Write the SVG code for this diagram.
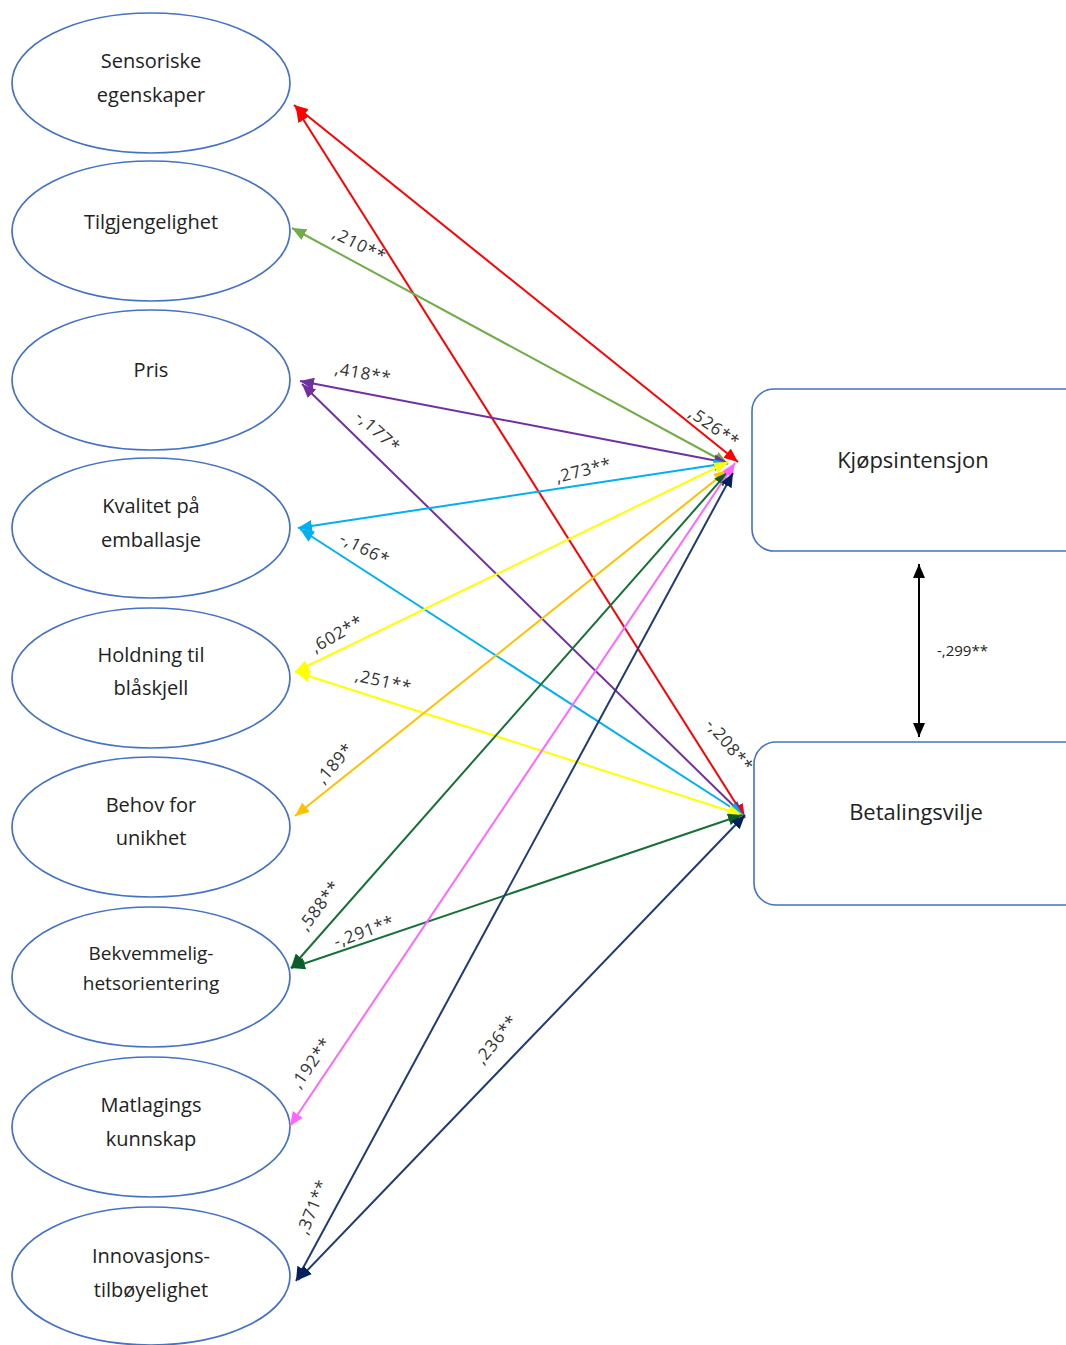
<svg xmlns="http://www.w3.org/2000/svg" width="1066" height="1345" viewBox="0 0 1066 1345">
<style>
.node ellipse{fill:#fff;stroke:#4472C4;stroke-width:1.7}
.box{fill:#fff;stroke:#4472C4;stroke-width:1.6}
.nt{font-family:"Open Sans","Noto Sans",sans-serif;font-size:20px;fill:#222;text-anchor:middle}
.bt{font-family:"Open Sans","Noto Sans",sans-serif;font-size:22px;fill:#222;text-anchor:middle}
.lb{font-family:"Open Sans","Noto Sans",sans-serif;font-size:17px;fill:#333;text-anchor:middle;letter-spacing:0.8px}
.c line{stroke-width:2;fill:none}
</style>
<defs>
<marker id="mR" markerUnits="userSpaceOnUse" markerWidth="14" markerHeight="12" refX="14" refY="6" orient="auto-start-reverse"><path d="M0,0L14,6L0,12z" fill="#FF0000"/></marker>
<marker id="mLG" markerUnits="userSpaceOnUse" markerWidth="14" markerHeight="12" refX="14" refY="6" orient="auto-start-reverse"><path d="M0,0L14,6L0,12z" fill="#70AD47"/></marker>
<marker id="mP" markerUnits="userSpaceOnUse" markerWidth="14" markerHeight="12" refX="14" refY="6" orient="auto-start-reverse"><path d="M0,0L14,6L0,12z" fill="#7030A0"/></marker>
<marker id="mC" markerUnits="userSpaceOnUse" markerWidth="14" markerHeight="12" refX="14" refY="6" orient="auto-start-reverse"><path d="M0,0L14,6L0,12z" fill="#00B0F0"/></marker>
<marker id="mY" markerUnits="userSpaceOnUse" markerWidth="14" markerHeight="12" refX="14" refY="6" orient="auto-start-reverse"><path d="M0,0L14,6L0,12z" fill="#FFFF00"/></marker>
<marker id="mO" markerUnits="userSpaceOnUse" markerWidth="14" markerHeight="12" refX="14" refY="6" orient="auto-start-reverse"><path d="M0,0L14,6L0,12z" fill="#FFC000"/></marker>
<marker id="mDG" markerUnits="userSpaceOnUse" markerWidth="14" markerHeight="12" refX="14" refY="6" orient="auto-start-reverse"><path d="M0,0L14,6L0,12z" fill="#0B5E2A"/></marker>
<marker id="mPk" markerUnits="userSpaceOnUse" markerWidth="14" markerHeight="12" refX="14" refY="6" orient="auto-start-reverse"><path d="M0,0L14,6L0,12z" fill="#FF66FF"/></marker>
<marker id="mN" markerUnits="userSpaceOnUse" markerWidth="14" markerHeight="12" refX="14" refY="6" orient="auto-start-reverse"><path d="M0,0L14,6L0,12z" fill="#002060"/></marker>
<marker id="mB" markerUnits="userSpaceOnUse" markerWidth="14" markerHeight="12" refX="14" refY="6" orient="auto-start-reverse"><path d="M0,0L14,6L0,12z" fill="#000"/></marker>
</defs>
<rect width="1066" height="1345" fill="#fff"/>

<g id="sensoriske" class="node"><ellipse cx="151" cy="83" rx="139" ry="70"/><text class="nt" x="151" y="68">Sensoriske</text><text class="nt" x="151" y="102">egenskaper</text></g>
<g id="tilgjengelighet" class="node"><ellipse cx="151" cy="231" rx="139" ry="70"/><text class="nt" x="151" y="229">Tilgjengelighet</text></g>
<g id="pris" class="node"><ellipse cx="151" cy="380" rx="139" ry="70"/><text class="nt" x="151" y="377">Pris</text></g>
<g id="kvalitet" class="node"><ellipse cx="151" cy="528" rx="139" ry="70"/><text class="nt" x="151" y="513">Kvalitet på</text><text class="nt" x="151" y="547">emballasje</text></g>
<g id="holdning" class="node"><ellipse cx="151" cy="678" rx="139" ry="70"/><text class="nt" x="151" y="662">Holdning til</text><text class="nt" x="151" y="695">blåskjell</text></g>
<g id="behov" class="node"><ellipse cx="151" cy="827" rx="139" ry="70"/><text class="nt" x="151" y="812">Behov for</text><text class="nt" x="151" y="845">unikhet</text></g>
<g id="bekvemmelighet" class="node"><ellipse cx="151" cy="977" rx="139" ry="70"/><text class="nt" x="151" y="960" style="font-size:19px">Bekvemmelig-</text><text class="nt" x="151" y="990" style="font-size:19px">hetsorientering</text></g>
<g id="matlagings" class="node"><ellipse cx="151" cy="1127" rx="139" ry="70"/><text class="nt" x="151" y="1112">Matlagings</text><text class="nt" x="151" y="1146">kunnskap</text></g>
<g id="innovasjon" class="node"><ellipse cx="151" cy="1276" rx="139" ry="69"/><text class="nt" x="151" y="1263">Innovasjons-</text><text class="nt" x="151" y="1297">tilbøyelighet</text></g>

<g id="kjopsintensjon"><rect class="box" x="752" y="389" width="340" height="162" rx="22"/><text class="bt" x="913" y="468">Kjøpsintensjon</text></g>
<g id="betalingsvilje"><rect class="box" x="754" y="742" width="340" height="163" rx="22"/><text class="bt" x="916" y="820">Betalingsvilje</text></g>

<g id="connectors" class="c">
<line x1="294" y1="105" x2="738" y2="462" stroke="#FF0000" marker-start="url(#mR)" marker-end="url(#mR)"/>
<line x1="296" y1="108" x2="745" y2="818" stroke="#FF0000" marker-start="url(#mR)" marker-end="url(#mR)"/>
<line x1="292" y1="228" x2="728" y2="464" stroke="#70AD47" marker-start="url(#mLG)" marker-end="url(#mLG)"/>
<line x1="300" y1="381" x2="728" y2="463" stroke="#7030A0" marker-start="url(#mP)" marker-end="url(#mP)"/>
<line x1="302" y1="384" x2="743" y2="815" stroke="#7030A0" marker-start="url(#mP)" marker-end="url(#mP)"/>
<line x1="298" y1="528" x2="728" y2="463" stroke="#00B0F0" marker-start="url(#mC)" marker-end="url(#mC)"/>
<line x1="300" y1="529" x2="743" y2="815" stroke="#00B0F0" marker-start="url(#mC)" marker-end="url(#mC)"/>
<line x1="295" y1="672" x2="728" y2="462" stroke="#FFFF00" marker-start="url(#mY)" marker-end="url(#mY)"/>
<line x1="296" y1="672" x2="742" y2="815" stroke="#FFFF00" marker-start="url(#mY)" marker-end="url(#mY)"/>
<line x1="295" y1="816" x2="728" y2="470" stroke="#FFC000" marker-start="url(#mO)" marker-end="url(#mO)"/>
<line x1="291" y1="968" x2="728" y2="472" stroke="#17703A" marker-start="url(#mDG)" marker-end="url(#mDG)"/>
<line x1="291" y1="968" x2="742" y2="815" stroke="#17703A" marker-start="url(#mDG)" marker-end="url(#mDG)"/>
<line x1="290" y1="1126" x2="735" y2="463" stroke="#FF66FF" marker-start="url(#mPk)" marker-end="url(#mPk)"/>
<line x1="296" y1="1281" x2="733" y2="473" stroke="#1F3B73" marker-start="url(#mN)" marker-end="url(#mN)"/>
<line x1="298" y1="1280" x2="745" y2="815" stroke="#1F3B73" marker-start="url(#mN)" marker-end="url(#mN)"/>
<line x1="919" y1="564" x2="919" y2="737" stroke="#000" marker-start="url(#mB)" marker-end="url(#mB)"/>
</g>

<g id="labels">
<text class="lb" transform="translate(357,250) rotate(27)">,210**</text>
<text class="lb" transform="translate(711,432) rotate(35)">,526**</text>
<text class="lb" transform="translate(362,379) rotate(10)">,418**</text>
<text class="lb" transform="translate(374,436) rotate(42)">-,177*</text>
<text class="lb" transform="translate(585,476) rotate(-14)">,273**</text>
<text class="lb" transform="translate(362,554) rotate(27)">-,166*</text>
<text class="lb" transform="translate(340,639) rotate(-30)">,602**</text>
<text class="lb" transform="translate(382,687) rotate(13)">,251**</text>
<text class="lb" transform="translate(339,767) rotate(-49)">,189*</text>
<text class="lb" transform="translate(324,909) rotate(-53)">,588**</text>
<text class="lb" transform="translate(366,937) rotate(-20)">-,291**</text>
<text class="lb" transform="translate(316,1066) rotate(-55)">,192**</text>
<text class="lb" transform="translate(318,1209) rotate(-68)">,371**</text>
<text class="lb" transform="translate(501,1043) rotate(-51)">,236**</text>
<text class="lb" transform="translate(725,749) rotate(50)">-,208**</text>
<text x="937" y="656" style="font-family:'Open Sans','Noto Sans',sans-serif;font-size:15px;fill:#222">-,299**</text>
</g>
</svg>
